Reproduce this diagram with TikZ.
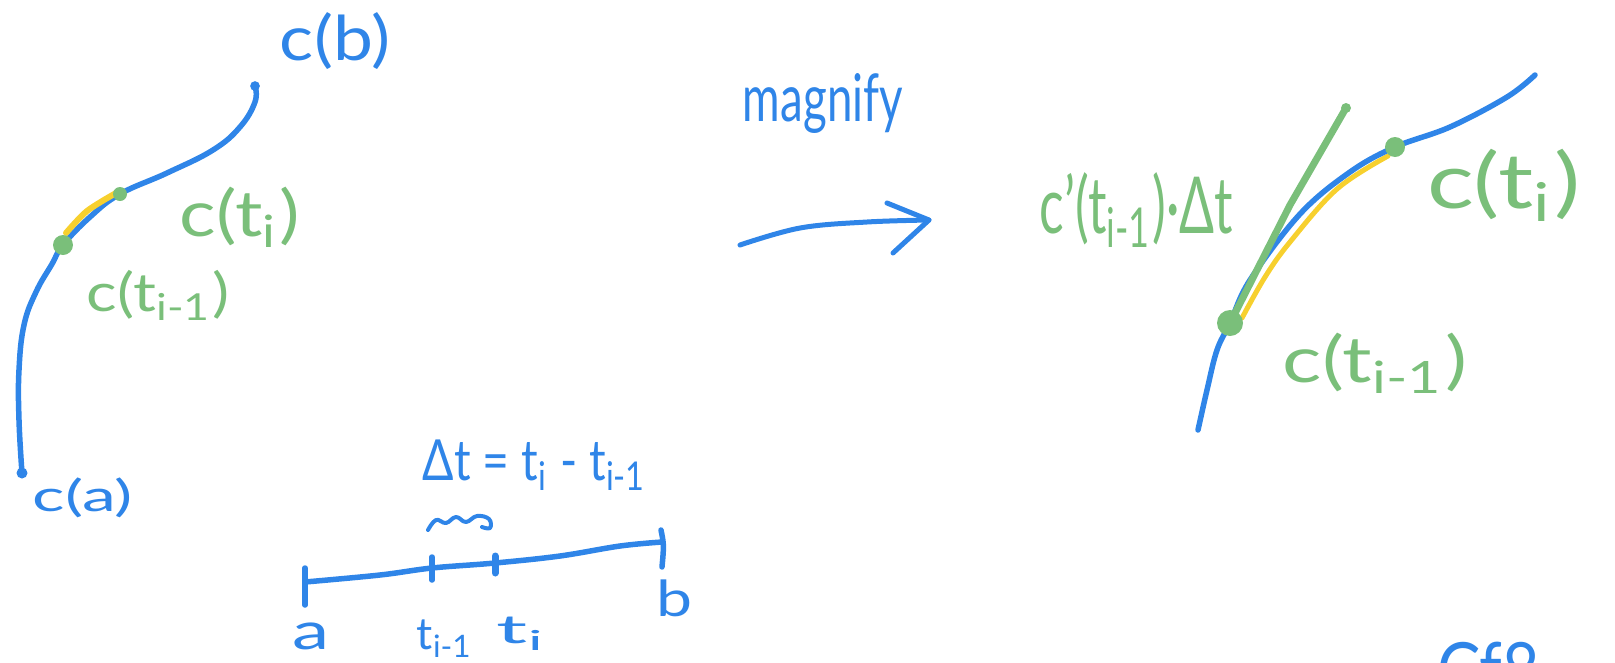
\documentclass[tikz,border=0pt]{standalone}
\usepackage{fontspec}
\setmainfont{Lato}
\usepackage{graphicx}
\definecolor{penblue}{RGB}{47,133,232}
\definecolor{pengreen}{RGB}{122,191,122}
\definecolor{penyellow}{RGB}{247,208,46}
\newcommand\myfit[3]{\resizebox*{#1pt}{#2pt}{#3}}
\newcommand\sbs[1]{\textsubscript{#1}}
\tikzset{
  bluepen/.style={draw=penblue, line width=5.5pt, line cap=round, line join=round},
  greenpen/.style={draw=pengreen, line width=7pt, line cap=round, line join=round},
  yellowpen/.style={draw=penyellow, line width=5pt, line cap=round, line join=round},
  lbl/.style={inner sep=0pt, outer sep=0pt},
  bluelbl/.style={lbl, text=penblue},
  greenlbl/.style={lbl, text=pengreen},
}
\begin{document}
\begin{tikzpicture}[x=1pt,y=-1pt]
\useasboundingbox (0,0) rectangle (1615,662);
\clip (0,0) rectangle (1615,662);

% ---------- left curve ----------
\coordinate (ca) at (22,473);
\coordinate (cb) at (255,86);
\coordinate (ctim) at (63,245);
\coordinate (cti) at (120,194);
\draw[bluepen] plot[smooth, tension=0.7] coordinates {(ca) (19,420) (19,370) (24,325) (36,292) (52,264) (ctim) (90,217) (cti) (167,173) (213,150) (240,127) (255,102) (cb)};
\draw[yellowpen, line width=6pt] plot[smooth] coordinates {(66,233) (87,211) (116,193)};
\fill[penblue] (ca) circle (5.5);
\draw[penblue, line width=2.5pt] (cb) circle (3.5);
\fill[pengreen] (ctim) circle (10);
\fill[pengreen] (cti) circle (7);

\node[bluelbl] (lcb) at (335,41.5) {\myfit{110}{57}{c(b)}};
\node[greenlbl] (lcti) at (240,217) {\myfit{120}{60}{c(t\sbs{i})}};
\node[greenlbl] (lctim) at (158.5,295) {\myfit{143}{50}{c(t\sbs{i-1})}};
\node[bluelbl] (lca) at (83,498) {\myfit{100}{40}{c(a)}};

% ---------- number line ----------
\coordinate (na) at (305,582);
\coordinate (nb) at (662,542);
\coordinate (nt1) at (432,568);
\coordinate (nt2) at (495,563);
\draw[bluepen] plot[smooth, tension=0.6] coordinates {(na) (380,575) (nt1) (nt2) (560,556) (620,546) (nb)};
\draw[bluepen] (305,568) -- (305,605);
\draw[bluepen] (432,557) -- (432,580);
\draw[bluepen, line width=7pt] (495,556) -- (495,573);
\draw[bluepen] (661,530) .. controls (664,545) .. (662,567);
\draw[bluepen, line width=4pt] plot[smooth, tension=0.7] coordinates {(428,530) (436,520) (446,523) (456,517) (466,522) (477,516) (489,519) (490,528) (482,527)};

\node[bluelbl] (ldt) at (535,465) {\myfit{224}{50}{Δt = t\sbs{i} - t\sbs{i-1}}};
\node[bluelbl] (la) at (311.5,636.5) {\myfit{37}{27}{a}};
\node[bluelbl] (ltim) at (445,638.5) {\myfit{56}{37}{t\sbs{i-1}}};
\node[bluelbl] (lti) at (522,633.5) {\myfit{50}{33}{t\sbs{i}}};
\node[bluelbl] (lb) at (675,598.5) {\myfit{36}{37}{b}};

% ---------- magnify arrow ----------
\node[bluelbl] (lmag) at (823,103) {\myfit{160}{60}{magnify}};
\coordinate (as) at (740,245);
\coordinate (ae) at (929,220);
\draw[bluepen, line width=5pt] plot[smooth, tension=0.6] coordinates {(as) (800,228) (867,222) (ae)};
\draw[bluepen, line width=5pt] (887,203) -- (ae) -- (893,253);

% ---------- magnified curve ----------
\coordinate (rbot) at (1198,430);
\coordinate (rtop) at (1535,75);
\coordinate (rtim) at (1230,323);
\coordinate (rti) at (1395,147);
\coordinate (rtan) at (1346,108);
\draw[yellowpen] plot[smooth, tension=0.6] coordinates {(1242,318) (1265,277) (1290,242) (1337,189) (1388,156)};
\draw[bluepen] plot[smooth, tension=0.6] coordinates {(rbot) (1207,390) (1217,350) (rtim) (1250,280) (1300,214) (1350,172) (rti) (1450,127) (1507,97) (rtop)};
\draw[greenpen] (rtim) -- (1290,205) -- (rtan);
\fill[pengreen] (rtan) circle (5);
\fill[pengreen] (rtim) circle (13);
\fill[pengreen] (rti) circle (10);

\node[greenlbl] (lrd) at (1136.5,210) {\myfit{193}{74}{c'(t\sbs{i-1})·Δt}};
\node[greenlbl] (lrti) at (1504,185) {\myfit{154}{72}{c(t\sbs{i})}};
\node[greenlbl] (lrtim) at (1375,363) {\myfit{184}{60}{c(t\sbs{i-1})}};

% ---------- partial text at the bottom edge (cut off in the reference too) ----------
\node[bluelbl, anchor=north west] (lcut) at (1437,642) {\myfit{103}{55}{Cf8}};
\end{tikzpicture}
\end{document}
